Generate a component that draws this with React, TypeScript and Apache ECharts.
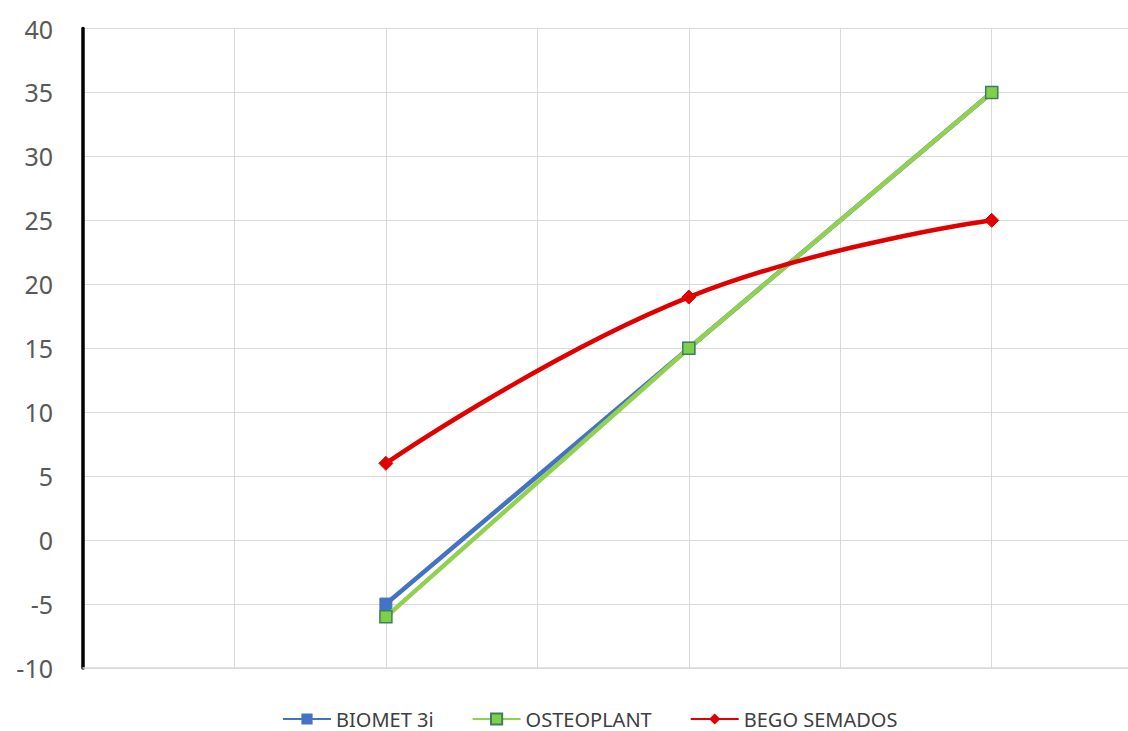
import React, { useEffect, useRef } from "react";
import * as echarts from "echarts";

const xPositions = [2, 4, 6];
const biomet = [-5, 15, 35];
const osteoplant = [-6, 15, 35];
const bego = [6, 19, 25];
const seriesNames = ["BIOMET 3i", "OSTEOPLANT", "BEGO SEMADOS"];

const pairs = (ys: number[]) => ys.map((y, i) => [xPositions[i], y]);

export default function App() {
  const ref = useRef<HTMLDivElement>(null);
  useEffect(() => {
    if (!ref.current) return;
    const chart = echarts.init(ref.current, undefined, { renderer: "svg" });
    const font = "'Noto Sans', sans-serif";
    chart.setOption({
      animation: false,
      backgroundColor: "#ffffff",
      grid: { left: 83, right: 0, top: 28.5, bottom: 63 },
      legend: {
        left: 282,
        top: 709,
        itemWidth: 48,
        itemHeight: 14,
        itemGap: 38,
        padding: 0,
        textStyle: { color: "#404040", fontSize: 20, lineHeight: 20, fontFamily: font },
        data: seriesNames,
      },
      xAxis: {
        type: "value",
        min: 0,
        max: 6.9,
        interval: 1,
        axisLabel: { show: false },
        axisTick: { show: false },
        axisLine: { show: true, onZero: false, lineStyle: { color: "#D9D9D9", width: 1.5 } },
        splitLine: { show: true, lineStyle: { color: "#D9D9D9", width: 1 } },
      },
      yAxis: {
        type: "value",
        min: -10,
        max: 40,
        interval: 5,
        axisLine: { show: true, onZero: false, lineStyle: { color: "#000000", width: 3.5 } },
        axisTick: { show: false },
        axisLabel: { color: "#595959", fontSize: 25, fontFamily: font, margin: 30 },
        splitLine: { show: true, lineStyle: { color: "#D9D9D9", width: 1 } },
      },
      series: [
        {
          name: seriesNames[0],
          type: "line",
          data: pairs(biomet),
          symbol: "rect",
          symbolSize: 12,
          itemStyle: { color: "#4472C4", borderColor: "#4472C4" },
          lineStyle: { color: "#4472C4", width: 4.5 },
          z: 2,
        },
        {
          name: seriesNames[1],
          type: "line",
          data: pairs(osteoplant),
          symbol: "rect",
          symbolSize: 12,
          itemStyle: { color: "#7ED048", borderColor: "#3F7F5F", borderWidth: 1.5 },
          lineStyle: { color: "#92D050", width: 4.5 },
          z: 3,
        },
        {
          name: seriesNames[2],
          type: "line",
          data: pairs(bego),
          smooth: 0.45,
          symbol: "diamond",
          symbolSize: 14,
          itemStyle: { color: "#E00000", borderColor: "#E00000" },
          lineStyle: { color: "#E00000", width: 4.5 },
          z: 4,
        },
      ],
    });
    return () => chart.dispose();
  }, []);
  return (
    <div
      ref={ref}
      style={{ position: "fixed", left: 0, top: 0, width: 1128, height: 731 }}
    />
  );
}
